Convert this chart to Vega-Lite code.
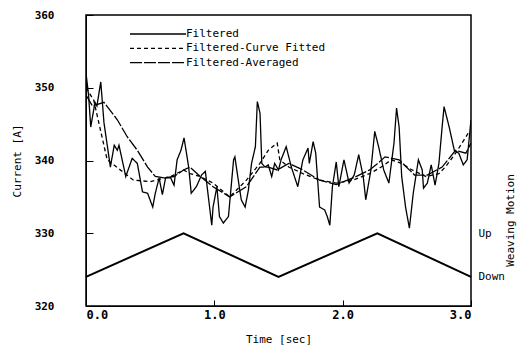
{
  "$schema": "https://vega.github.io/schema/vega-lite/v6.json",
  "width": 385,
  "height": 291,
  "autosize": "none",
  "padding": {"left": 86, "top": 15, "right": 47, "bottom": 53},
  "background": "white",
  "config": {
    "view": {"stroke": "black", "strokeWidth": 1.5},
    "font": "DejaVu Sans Mono",
    "axis": {"grid": false, "domainColor": "black", "tickColor": "black", "labelColor": "black", "titleColor": "black", "labelFont": "DejaVu Sans Mono", "titleFont": "DejaVu Sans Mono", "labelFontWeight": "bold", "titleFontWeight": "normal"}
  },
  "datasets": {
    "current": [
      {"t":0,"value":352,"series":"Filtered"},{"t":0.02,"value":349,"series":"Filtered"},{"t":0.037,"value":344.6,"series":"Filtered"},{"t":0.07,"value":348,"series":"Filtered"},{"t":0.085,"value":347.5,"series":"Filtered"},{"t":0.115,"value":350.8,"series":"Filtered"},{"t":0.14,"value":345.2,"series":"Filtered"},{"t":0.19,"value":339.1,"series":"Filtered"},{"t":0.22,"value":342.1,"series":"Filtered"},{"t":0.244,"value":341.4,"series":"Filtered"},{"t":0.257,"value":342.1,"series":"Filtered"},{"t":0.31,"value":337.8,"series":"Filtered"},{"t":0.36,"value":340.3,"series":"Filtered"},{"t":0.40,"value":339.6,"series":"Filtered"},{"t":0.44,"value":335.7,"series":"Filtered"},{"t":0.48,"value":335.5,"series":"Filtered"},{"t":0.52,"value":333.6,"series":"Filtered"},{"t":0.54,"value":335.5,"series":"Filtered"},{"t":0.57,"value":337.6,"series":"Filtered"},{"t":0.595,"value":335.3,"series":"Filtered"},{"t":0.62,"value":337.6,"series":"Filtered"},{"t":0.66,"value":337.6,"series":"Filtered"},{"t":0.686,"value":336.6,"series":"Filtered"},{"t":0.71,"value":340.1,"series":"Filtered"},{"t":0.74,"value":341.4,"series":"Filtered"},{"t":0.764,"value":343.1,"series":"Filtered"},{"t":0.80,"value":339.1,"series":"Filtered"},{"t":0.82,"value":335.5,"series":"Filtered"},{"t":0.86,"value":336.4,"series":"Filtered"},{"t":0.90,"value":338,"series":"Filtered"},{"t":0.93,"value":338.5,"series":"Filtered"},{"t":0.95,"value":335.5,"series":"Filtered"},{"t":0.98,"value":331.1,"series":"Filtered"},{"t":0.99,"value":333.6,"series":"Filtered"},{"t":1.02,"value":336.4,"series":"Filtered"},{"t":1.04,"value":332.3,"series":"Filtered"},{"t":1.07,"value":331.4,"series":"Filtered"},{"t":1.11,"value":332.3,"series":"Filtered"},{"t":1.15,"value":340.1,"series":"Filtered"},{"t":1.16,"value":340.5,"series":"Filtered"},{"t":1.19,"value":336.9,"series":"Filtered"},{"t":1.21,"value":334.6,"series":"Filtered"},{"t":1.24,"value":333.6,"series":"Filtered"},{"t":1.265,"value":335.9,"series":"Filtered"},{"t":1.29,"value":339.6,"series":"Filtered"},{"t":1.32,"value":341.9,"series":"Filtered"},{"t":1.335,"value":348.1,"series":"Filtered"},{"t":1.356,"value":346.5,"series":"Filtered"},{"t":1.37,"value":339.6,"series":"Filtered"},{"t":1.395,"value":339.1,"series":"Filtered"},{"t":1.42,"value":339.4,"series":"Filtered"},{"t":1.447,"value":337.8,"series":"Filtered"},{"t":1.47,"value":339.6,"series":"Filtered"},{"t":1.50,"value":338.7,"series":"Filtered"},{"t":1.52,"value":340.1,"series":"Filtered"},{"t":1.56,"value":341.9,"series":"Filtered"},{"t":1.60,"value":339.1,"series":"Filtered"},{"t":1.65,"value":336.4,"series":"Filtered"},{"t":1.69,"value":340.1,"series":"Filtered"},{"t":1.73,"value":341.7,"series":"Filtered"},{"t":1.74,"value":339.6,"series":"Filtered"},{"t":1.77,"value":342.6,"series":"Filtered"},{"t":1.79,"value":341,"series":"Filtered"},{"t":1.82,"value":333.6,"series":"Filtered"},{"t":1.86,"value":333.2,"series":"Filtered"},{"t":1.88,"value":332.3,"series":"Filtered"},{"t":1.90,"value":331.1,"series":"Filtered"},{"t":1.92,"value":336.4,"series":"Filtered"},{"t":1.95,"value":339.8,"series":"Filtered"},{"t":1.97,"value":336.4,"series":"Filtered"},{"t":2.01,"value":340.1,"series":"Filtered"},{"t":2.05,"value":336.9,"series":"Filtered"},{"t":2.09,"value":338,"series":"Filtered"},{"t":2.125,"value":340.8,"series":"Filtered"},{"t":2.16,"value":337.8,"series":"Filtered"},{"t":2.18,"value":334.6,"series":"Filtered"},{"t":2.22,"value":338.7,"series":"Filtered"},{"t":2.25,"value":344,"series":"Filtered"},{"t":2.28,"value":341.9,"series":"Filtered"},{"t":2.32,"value":338.7,"series":"Filtered"},{"t":2.36,"value":336.9,"series":"Filtered"},{"t":2.40,"value":342.4,"series":"Filtered"},{"t":2.42,"value":347.2,"series":"Filtered"},{"t":2.44,"value":344.6,"series":"Filtered"},{"t":2.46,"value":337.8,"series":"Filtered"},{"t":2.49,"value":333.6,"series":"Filtered"},{"t":2.52,"value":330.7,"series":"Filtered"},{"t":2.55,"value":335.5,"series":"Filtered"},{"t":2.59,"value":340.1,"series":"Filtered"},{"t":2.62,"value":338.7,"series":"Filtered"},{"t":2.63,"value":336.2,"series":"Filtered"},{"t":2.66,"value":336.9,"series":"Filtered"},{"t":2.69,"value":339.4,"series":"Filtered"},{"t":2.72,"value":336.6,"series":"Filtered"},{"t":2.75,"value":339.6,"series":"Filtered"},{"t":2.775,"value":344.6,"series":"Filtered"},{"t":2.79,"value":347.4,"series":"Filtered"},{"t":2.83,"value":344.6,"series":"Filtered"},{"t":2.87,"value":341.4,"series":"Filtered"},{"t":2.905,"value":341,"series":"Filtered"},{"t":2.94,"value":339.4,"series":"Filtered"},{"t":2.97,"value":340.1,"series":"Filtered"},{"t":3.0,"value":345.6,"series":"Filtered"},
      {"t":0,"value":350,"series":"Filtered-Curve Fitted"},{"t":0.06,"value":348.3,"series":"Filtered-Curve Fitted"},{"t":0.165,"value":340.1,"series":"Filtered-Curve Fitted"},{"t":0.37,"value":337.3,"series":"Filtered-Curve Fitted"},{"t":0.5,"value":337.1,"series":"Filtered-Curve Fitted"},{"t":0.66,"value":337.8,"series":"Filtered-Curve Fitted"},{"t":0.76,"value":338.7,"series":"Filtered-Curve Fitted"},{"t":0.81,"value":338.2,"series":"Filtered-Curve Fitted"},{"t":0.89,"value":337.8,"series":"Filtered-Curve Fitted"},{"t":0.99,"value":336.9,"series":"Filtered-Curve Fitted"},{"t":1.12,"value":335,"series":"Filtered-Curve Fitted"},{"t":1.25,"value":337.3,"series":"Filtered-Curve Fitted"},{"t":1.355,"value":339.6,"series":"Filtered-Curve Fitted"},{"t":1.42,"value":341.4,"series":"Filtered-Curve Fitted"},{"t":1.49,"value":342.4,"series":"Filtered-Curve Fitted"},{"t":1.51,"value":340.1,"series":"Filtered-Curve Fitted"},{"t":1.58,"value":339.1,"series":"Filtered-Curve Fitted"},{"t":1.69,"value":338.2,"series":"Filtered-Curve Fitted"},{"t":1.82,"value":337.3,"series":"Filtered-Curve Fitted"},{"t":1.95,"value":336.9,"series":"Filtered-Curve Fitted"},{"t":2.08,"value":337.3,"series":"Filtered-Curve Fitted"},{"t":2.21,"value":338.2,"series":"Filtered-Curve Fitted"},{"t":2.30,"value":339.1,"series":"Filtered-Curve Fitted"},{"t":2.38,"value":340.1,"series":"Filtered-Curve Fitted"},{"t":2.46,"value":339.6,"series":"Filtered-Curve Fitted"},{"t":2.54,"value":338.7,"series":"Filtered-Curve Fitted"},{"t":2.65,"value":337.8,"series":"Filtered-Curve Fitted"},{"t":2.75,"value":338.2,"series":"Filtered-Curve Fitted"},{"t":2.8,"value":339.1,"series":"Filtered-Curve Fitted"},{"t":2.88,"value":341,"series":"Filtered-Curve Fitted"},{"t":2.98,"value":343.8,"series":"Filtered-Curve Fitted"},
      {"t":0,"value":349,"series":"Filtered-Averaged"},{"t":0.05,"value":347.5,"series":"Filtered-Averaged"},{"t":0.14,"value":348,"series":"Filtered-Averaged"},{"t":0.244,"value":345.6,"series":"Filtered-Averaged"},{"t":0.32,"value":343.3,"series":"Filtered-Averaged"},{"t":0.40,"value":341.4,"series":"Filtered-Averaged"},{"t":0.48,"value":339.1,"series":"Filtered-Averaged"},{"t":0.54,"value":337.8,"series":"Filtered-Averaged"},{"t":0.61,"value":337.6,"series":"Filtered-Averaged"},{"t":0.686,"value":337.8,"series":"Filtered-Averaged"},{"t":0.76,"value":338.7,"series":"Filtered-Averaged"},{"t":0.81,"value":339.1,"series":"Filtered-Averaged"},{"t":0.89,"value":337.8,"series":"Filtered-Averaged"},{"t":0.99,"value":336.4,"series":"Filtered-Averaged"},{"t":1.12,"value":335,"series":"Filtered-Averaged"},{"t":1.25,"value":336.4,"series":"Filtered-Averaged"},{"t":1.355,"value":339.1,"series":"Filtered-Averaged"},{"t":1.42,"value":339.1,"series":"Filtered-Averaged"},{"t":1.49,"value":338.7,"series":"Filtered-Averaged"},{"t":1.58,"value":339.6,"series":"Filtered-Averaged"},{"t":1.69,"value":338.7,"series":"Filtered-Averaged"},{"t":1.82,"value":337.3,"series":"Filtered-Averaged"},{"t":1.95,"value":336.7,"series":"Filtered-Averaged"},{"t":2.08,"value":337.6,"series":"Filtered-Averaged"},{"t":2.21,"value":338.7,"series":"Filtered-Averaged"},{"t":2.26,"value":339.4,"series":"Filtered-Averaged"},{"t":2.33,"value":340.5,"series":"Filtered-Averaged"},{"t":2.44,"value":340.1,"series":"Filtered-Averaged"},{"t":2.56,"value":338,"series":"Filtered-Averaged"},{"t":2.66,"value":338,"series":"Filtered-Averaged"},{"t":2.775,"value":339.1,"series":"Filtered-Averaged"},{"t":2.88,"value":341.4,"series":"Filtered-Averaged"},{"t":2.96,"value":341,"series":"Filtered-Averaged"},{"t":3.0,"value":342.4,"series":"Filtered-Averaged"}
    ],
    "weaving": [
      {"t":0,"value":324},{"t":0.76,"value":330},{"t":1.5,"value":324},{"t":2.27,"value":330},{"t":3.0,"value":324}
    ]
  },
  "layer": [
    {
      "data": {"name": "current"},
      "mark": {"type": "line", "color": "black", "strokeWidth": 1.3, "clip": true},
      "encoding": {
        "x": {"field": "t", "type": "quantitative", "scale": {"domain": [0, 3], "nice": false},
          "axis": {"values": [0, 1, 2, 3], "format": ".1f", "tickSize": -6, "labelFontSize": 12, "labelPadding": 9, "title": "Time [sec]", "titleFontSize": 11, "titlePadding": 13}},
        "y": {"field": "value", "type": "quantitative", "scale": {"domain": [320, 360], "nice": false, "zero": false},
          "axis": {"orient": "left", "values": [320, 330, 340, 350, 360], "tickSize": -7, "labelFontSize": 11, "labelPadding": 39, "title": "Current [A]", "titleFontSize": 11, "titlePadding": 12}},
        "strokeDash": {"field": "series", "type": "nominal",
          "scale": {"domain": ["Filtered", "Filtered-Curve Fitted", "Filtered-Averaged"], "range": [[1, 0], [4, 3], [12, 2]]},
          "legend": {"title": null, "orient": "none", "legendX": 64, "legendY": 11, "symbolType": "M-4,0H4", "symbolSize": 196, "symbolStrokeWidth": 1.3, "symbolStrokeColor": "black", "symbolFillColor": "transparent", "labelFontSize": 11, "labelFont": "DejaVu Sans Mono", "labelColor": "black", "labelOffset": 20, "rowPadding": 1.3, "padding": 0}}
      }
    },
    {
      "data": {"name": "weaving"},
      "mark": {"type": "line", "color": "black", "strokeWidth": 2},
      "encoding": {
        "x": {"field": "t", "type": "quantitative"},
        "y": {"field": "value", "type": "quantitative",
          "axis": {"orient": "right", "values": [324, 330], "labelExpr": "datum.value == 330 ? 'Up' : 'Down'", "ticks": false, "domain": false, "labelFontSize": 11, "labelFontWeight": "normal", "labelPadding": 7, "title": "Weaving Motion", "titleAngle": -90, "titleFontSize": 11, "titleY": 205, "titleX": 44}}
      }
    }
  ],
  "resolve": {"axis": {"y": "independent"}}
}
